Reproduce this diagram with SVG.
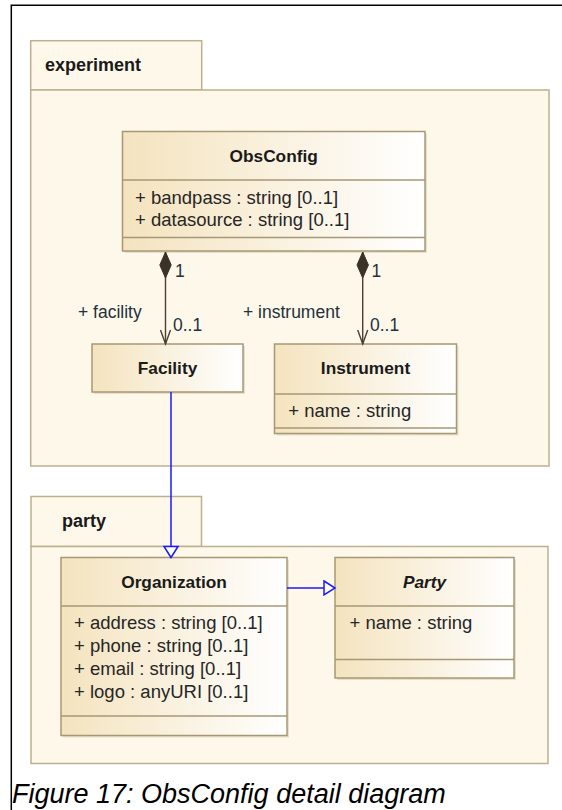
<svg xmlns="http://www.w3.org/2000/svg" width="562" height="810" viewBox="0 0 562 810">
<style>
  .pkg { fill: #FEF8EA; stroke: #BCB08F; stroke-width: 1.5; }
  .cls { fill: url(#clsGrad); stroke: #A69874; stroke-width: 1.5; }
  .shadow { fill: #D8CFB6; opacity: 0.6; }
  .sep { stroke: #A69874; stroke-width: 1.5; }
  .pkgname { font-family: "Liberation Sans", Arial, sans-serif; font-weight: bold; font-size: 18px; fill: #1a1a1a; }
  .clsname { font-family: "Liberation Sans", Arial, sans-serif; font-weight: bold; font-size: 17.3px; fill: #1a1a1a; text-anchor: middle; }
  .attr { font-family: "Liberation Sans", Arial, sans-serif; font-size: 18.5px; fill: #262626; }
  .role { font-family: "Liberation Sans", Arial, sans-serif; font-size: 17.5px; fill: #24303c; }
  .comp { stroke: #4A3F30; stroke-width: 1.4; fill: none; }
  .gen { stroke: #1A1AFF; stroke-width: 1.5; fill: none; }
  .caption { font-family: "Liberation Sans", Arial, sans-serif; font-style: italic; font-size: 27px; fill: #000; }
</style>
<defs>
  <linearGradient id="clsGrad" x1="0" y1="0" x2="1" y2="0">
    <stop offset="0" stop-color="#F4E3BE"/>
    <stop offset="1" stop-color="#FFFFFF"/>
  </linearGradient>
  <marker id="diamond" markerUnits="userSpaceOnUse" markerWidth="30" markerHeight="14" refX="0" refY="0" orient="auto" overflow="visible">
    <path d="M0,0 L13,-5.7 L26,0 L13,5.7 Z" fill="#3A3226" stroke="#3A3226" stroke-width="1"/>
  </marker>
  <marker id="openArrow" markerUnits="userSpaceOnUse" markerWidth="16" markerHeight="12" refX="0" refY="0" orient="auto" overflow="visible">
    <path d="M-14,-5 L0,0 L-14,5" fill="none" stroke="#4A3F30" stroke-width="1.4"/>
  </marker>
  <marker id="genTri" markerUnits="userSpaceOnUse" markerWidth="14" markerHeight="16" refX="0" refY="0" orient="auto" overflow="visible">
    <path d="M-11,-7 L0,0 L-11,7 Z" fill="#FFFFFF" stroke="#1A1AFF" stroke-width="1.5"/>
  </marker>
</defs>

<rect x="0" y="0" width="562" height="810" fill="#FFFFFF"/>
<path d="M11.3,810 L11.3,5.3 L562,5.3" fill="none" stroke="#000" stroke-width="1.5"/>

<g id="pkg-experiment">
  <rect class="pkg" x="30.7" y="40.7" width="171" height="49.3"/>
  <rect class="pkg" x="30.7" y="90" width="518.3" height="376"/>
  <text class="pkgname" x="45" y="71">experiment</text>
</g>

<g id="pkg-party">
  <rect class="pkg" x="31" y="496.5" width="170.5" height="50"/>
  <rect class="pkg" x="31" y="546.5" width="517" height="217"/>
  <text class="pkgname" x="62" y="527">party</text>
</g>

<g id="node-obsconfig">
  <rect class="shadow" x="124.5" y="133.5" width="302.5" height="119.5"/>
  <rect class="cls" x="122.5" y="131.5" width="302.5" height="119.5"/>
  <line class="sep" x1="122.5" y1="180" x2="425" y2="180"/>
  <line class="sep" x1="122.5" y1="237.5" x2="425" y2="237.5"/>
  <text class="clsname" x="273.7" y="162">ObsConfig</text>
  <text class="attr" x="135" y="204">+ bandpass : string [0..1]</text>
  <text class="attr" x="135" y="226">+ datasource : string [0..1]</text>
</g>

<g id="node-facility">
  <rect class="shadow" x="94" y="346" width="151" height="48"/>
  <rect class="cls" x="92" y="344" width="151" height="48"/>
  <text class="clsname" x="167.5" y="374">Facility</text>
</g>

<g id="node-instrument">
  <rect class="shadow" x="276.5" y="346" width="182" height="89.5"/>
  <rect class="cls" x="274.5" y="344" width="182" height="89.5"/>
  <line class="sep" x1="274.5" y1="394" x2="456.5" y2="394"/>
  <line class="sep" x1="274.5" y1="428" x2="456.5" y2="428"/>
  <text class="clsname" x="365.5" y="374">Instrument</text>
  <text class="attr" x="288.3" y="417">+ name : string</text>
</g>

<g id="node-organization">
  <rect class="shadow" x="63" y="559.5" width="226" height="178"/>
  <rect class="cls" x="61" y="557.5" width="226" height="178"/>
  <line class="sep" x1="61" y1="606" x2="287" y2="606"/>
  <line class="sep" x1="61" y1="716" x2="287" y2="716"/>
  <text class="clsname" x="174" y="587.5">Organization</text>
  <text class="attr" x="74" y="629">+ address : string [0..1]</text>
  <text class="attr" x="74" y="652">+ phone : string [0..1]</text>
  <text class="attr" x="74" y="675">+ email : string [0..1]</text>
  <text class="attr" x="74" y="698">+ logo : anyURI [0..1]</text>
</g>

<g id="node-party">
  <rect class="shadow" x="337" y="559.5" width="179" height="120.5"/>
  <rect class="cls" x="335" y="557.5" width="179" height="120.5"/>
  <line class="sep" x1="335" y1="606" x2="514" y2="606"/>
  <line class="sep" x1="335" y1="659.5" x2="514" y2="659.5"/>
  <text class="clsname" x="424.5" y="587.5" font-style="italic">Party</text>
  <text class="attr" x="349.5" y="629">+ name : string</text>
</g>

<g id="connectors">
  <line class="comp" x1="165.5" y1="252" x2="165.5" y2="344" marker-start="url(#diamond)" marker-end="url(#openArrow)"/>
  <text class="role" x="175" y="277">1</text>
  <text class="role" x="78" y="318">+ facility</text>
  <text class="role" x="173" y="331">0..1</text>

  <line class="comp" x1="362.7" y1="252" x2="362.7" y2="344" marker-start="url(#diamond)" marker-end="url(#openArrow)"/>
  <text class="role" x="371.5" y="277">1</text>
  <text class="role" x="243" y="318">+ instrument</text>
  <text class="role" x="370" y="331">0..1</text>

  <line class="gen" x1="171" y1="392" x2="171" y2="557.5" marker-end="url(#genTri)"/>
  <line class="gen" x1="287" y1="588" x2="335" y2="588" marker-end="url(#genTri)"/>
</g>

<text class="caption" x="12" y="803">Figure 17: ObsConfig detail diagram</text>
</svg>
